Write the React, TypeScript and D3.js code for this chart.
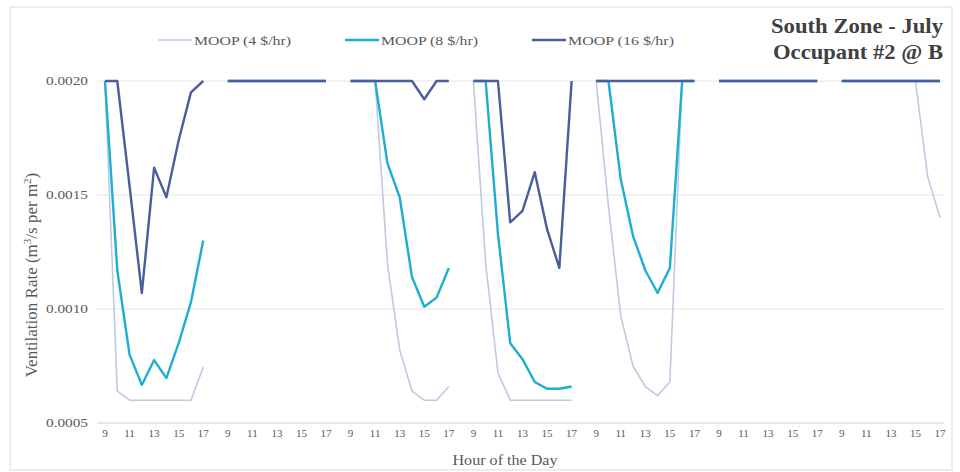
import React, { useEffect, useRef } from 'react'
import * as d3 from 'd3'

// seven days, hours 9..17, with one empty slot between days
const hours = [9, 10, 11, 12, 13, 14, 15, 16, 17]
const dayCount = 7
const tickHours = [9, 11, 13, 15, 17]
const yTicks = [0.0005, 0.001, 0.0015, 0.002]

const seriesNames = ['MOOP (4 $/hr)', 'MOOP (8 $/hr)', 'MOOP (16 $/hr)']
const seriesColors = ['#bccbe0', '#1fadd0', '#4a5f9a']
const seriesWidths = [1.6, 2.4, 2.4]

const moop4 = [
  [0.002, 0.00064, 0.0006, 0.0006, 0.0006, 0.0006, 0.0006, 0.0006, 0.000745],
  [0.002, 0.002, 0.002, 0.002, 0.002, 0.002, 0.002, 0.002, 0.002],
  [0.002, 0.002, 0.002, 0.0012, 0.00082, 0.00064, 0.0006, 0.0006, 0.00066],
  [0.002, 0.0012, 0.00072, 0.0006, 0.0006, 0.0006, 0.0006, 0.0006, 0.0006],
  [0.002, 0.00145, 0.00097, 0.00075, 0.00066, 0.00062, 0.00068, 0.002, 0.002],
  [0.002, 0.002, 0.002, 0.002, 0.002, 0.002, 0.002, 0.002, 0.002],
  [0.002, 0.002, 0.002, 0.002, 0.002, 0.002, 0.002, 0.00158, 0.0014]
]
const moop8 = [
  [0.002, 0.00117, 0.0008, 0.000667, 0.000776, 0.000697, 0.00085, 0.00103, 0.0013],
  [0.002, 0.002, 0.002, 0.002, 0.002, 0.002, 0.002, 0.002, 0.002],
  [0.002, 0.002, 0.002, 0.00164, 0.00149, 0.00114, 0.00101, 0.00105, 0.00118],
  [0.002, 0.002, 0.00133, 0.00085, 0.00078, 0.00068, 0.00065, 0.00065, 0.00066],
  [0.002, 0.002, 0.00157, 0.00132, 0.00117, 0.00107, 0.00118, 0.002, 0.002],
  [0.002, 0.002, 0.002, 0.002, 0.002, 0.002, 0.002, 0.002, 0.002],
  [0.002, 0.002, 0.002, 0.002, 0.002, 0.002, 0.002, 0.002, 0.002]
]
const moop16 = [
  [0.002, 0.002, 0.00154, 0.00107, 0.00162, 0.00149, 0.00174, 0.00195, 0.002],
  [0.002, 0.002, 0.002, 0.002, 0.002, 0.002, 0.002, 0.002, 0.002],
  [0.002, 0.002, 0.002, 0.002, 0.002, 0.002, 0.00192, 0.002, 0.002],
  [0.002, 0.002, 0.002, 0.00138, 0.00143, 0.0016, 0.00135, 0.00118, 0.002],
  [0.002, 0.002, 0.002, 0.002, 0.002, 0.002, 0.002, 0.002, 0.002],
  [0.002, 0.002, 0.002, 0.002, 0.002, 0.002, 0.002, 0.002, 0.002],
  [0.002, 0.002, 0.002, 0.002, 0.002, 0.002, 0.002, 0.002, 0.002]
]

const width = 960
const height = 472
const font = '"Liberation Serif", "Times New Roman", serif'

type Pt = { key: string, hour: number | null, value: number | null }

export default function App () {
  const ref = useRef<SVGSVGElement>(null)

  useEffect(() => {
    const svg = d3.select(ref.current)
    svg.selectAll('*').remove()

    // categories: 9 hours per day plus a blank slot between days
    const cats: string[] = []
    for (let d = 0; d < dayCount; d++) {
      hours.forEach(h => cats.push(d + '-' + h))
      if (d < dayCount - 1) cats.push('gap' + d)
    }

    const x = d3.scalePoint<string>().domain(cats).range([105, 940])
    const y = d3.scaleLinear().domain([0.0005, 0.002]).range([423, 81])

    svg.append('rect')
      .attr('x', 10).attr('y', 7)
      .attr('width', 942).attr('height', 463)
      .attr('fill', 'white')
      .attr('stroke', '#d9d9d9')

    // gridlines
    svg.append('g').selectAll('line')
      .data(yTicks.slice(1))
      .enter().append('line')
      .attr('x1', 97).attr('x2', 944)
      .attr('y1', d => y(d)).attr('y2', d => y(d))
      .attr('stroke', '#e4e4e4')
      .attr('stroke-width', 1)

    svg.append('line')
      .attr('x1', 97).attr('x2', 944)
      .attr('y1', y(0.0005)).attr('y2', y(0.0005))
      .attr('stroke', '#cfcfcf')

    // y tick labels
    svg.append('g').selectAll('text')
      .data(yTicks)
      .enter().append('text')
      .attr('x', 88)
      .attr('y', d => y(d) + 4)
      .attr('text-anchor', 'end')
      .attr('font-family', font)
      .attr('font-size', 12)
      .attr('fill', '#595959')
      .attr('textLength', 42)
      .attr('lengthAdjust', 'spacingAndGlyphs')
      .text(d => d3.format('.4f')(d))

    // x tick labels
    const xLabels: { key: string, h: number }[] = []
    for (let d = 0; d < dayCount; d++) {
      tickHours.forEach(h => xLabels.push({ key: d + '-' + h, h }))
    }
    svg.append('g').selectAll('text')
      .data(xLabels)
      .enter().append('text')
      .attr('x', d => x(d.key) as number)
      .attr('y', 437)
      .attr('text-anchor', 'middle')
      .attr('font-family', font)
      .attr('font-size', 11)
      .attr('fill', '#595959')
      .text(d => d.h)

    // series
    const allSeries = [moop4, moop8, moop16]
    const line = d3.line<Pt>()
      .defined(d => d.value !== null)
      .x(d => x(d.key) as number)
      .y(d => y(d.value as number))

    allSeries.forEach((s, si) => {
      const pts: Pt[] = []
      s.forEach((day, d) => {
        day.forEach((v, hi) => pts.push({ key: d + '-' + hours[hi], hour: hours[hi], value: v }))
        if (d < dayCount - 1) pts.push({ key: 'gap' + d, hour: null, value: null })
      })
      svg.append('path')
        .datum(pts)
        .attr('fill', 'none')
        .attr('stroke', seriesColors[si])
        .attr('stroke-width', seriesWidths[si])
        .attr('stroke-linejoin', 'round')
        .attr('d', line)
    })

    // legend
    const legendX = [158, 345, 532]
    const legendW = [97, 97, 106]
    const legend = svg.append('g').selectAll('g')
      .data(seriesNames)
      .enter().append('g')
      .attr('transform', (d, i) => 'translate(' + legendX[i] + ',40)')
    legend.append('line')
      .attr('x1', 0).attr('x2', 34)
      .attr('stroke', (d, i) => seriesColors[i])
      .attr('stroke-width', (d, i) => seriesWidths[i])
    legend.append('text')
      .attr('x', 36).attr('y', 4.5)
      .attr('font-family', font)
      .attr('font-size', 13)
      .attr('fill', '#595959')
      .attr('textLength', (d, i) => legendW[i])
      .attr('lengthAdjust', 'spacingAndGlyphs')
      .text(d => d)

    // title
    const title = svg.append('text')
      .attr('text-anchor', 'end')
      .attr('font-family', font)
      .attr('font-weight', 'bold')
      .attr('font-size', 20)
      .attr('fill', '#404040')
    title.append('tspan').attr('x', 943).attr('y', 33)
      .attr('textLength', 172).attr('lengthAdjust', 'spacingAndGlyphs')
      .text('South Zone - July')
    title.append('tspan').attr('x', 943).attr('y', 59)
      .attr('textLength', 170).attr('lengthAdjust', 'spacingAndGlyphs')
      .text('Occupant #2 @ B')

    // axis titles
    const yTitle = svg.append('text')
      .attr('transform', 'translate(37,275) rotate(-90)')
      .attr('text-anchor', 'middle')
      .attr('font-family', font)
      .attr('font-size', 17)
      .attr('fill', '#595959')
    yTitle.append('tspan').text('Ventilation Rate (m')
    yTitle.append('tspan').attr('font-size', 11).attr('dy', -6).text('3')
    yTitle.append('tspan').attr('dy', 6).text('/s per m')
    yTitle.append('tspan').attr('font-size', 11).attr('dy', -6).text('2')
    yTitle.append('tspan').attr('dy', 6).text(')')

    svg.append('text')
      .attr('x', 505).attr('y', 465)
      .attr('text-anchor', 'middle')
      .attr('font-family', font)
      .attr('font-size', 15)
      .attr('fill', '#595959')
      .attr('textLength', 105)
      .attr('lengthAdjust', 'spacingAndGlyphs')
      .text('Hour of the Day')
  }, [])

  return (
    <svg ref={ref} width={width} height={height}
      style={{ position: 'absolute', left: 0, top: 0, display: 'block' }} />
  )
}
